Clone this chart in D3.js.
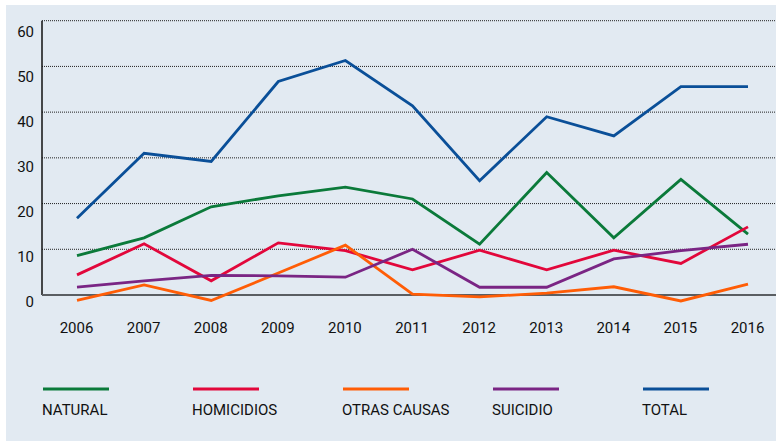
<!DOCTYPE html>
<html>
<head>
<meta charset="utf-8">
<script src="https://cdn.jsdelivr.net/npm/d3@7"></script>
<style>
  html, body { margin: 0; padding: 0; background: #ffffff; }
  svg { display: block; }
  text { font-family: Roboto, "Liberation Sans", sans-serif; fill: #111; }
</style>
</head>
<body>
<svg id="chart" width="776" height="441"></svg>
<script>
// Yearly series
const years = ["2006","2007","2008","2009","2010","2011","2012","2013","2014","2015","2016"];
const natural    = [8.6, 12.5, 19.3, 21.7, 23.6, 21.0, 11.1, 26.8, 12.5, 25.3, 13.3];
const homicidios = [4.4, 11.2, 3.1, 11.4, 9.7, 5.5, 9.8, 5.5, 9.8, 6.9, 14.9];
const otras      = [-1.2, 2.2, -1.2, 4.8, 10.9, 0.2, -0.4, 0.4, 1.8, -1.3, 2.4];
const suicidio   = [1.7, 3.1, 4.3, 4.2, 3.9, 10.0, 1.7, 1.7, 7.9, 9.7, 11.1];
const total      = [16.8, 31.0, 29.2, 46.7, 51.3, 41.4, 25.0, 39.0, 34.8, 45.6, 45.6];
const yTicks     = [0, 10, 20, 30, 40, 50, 60];

const seriesNames  = ["NATURAL", "HOMICIDIOS", "OTRAS CAUSAS", "SUICIDIO", "TOTAL"];
const seriesValues = [natural, homicidios, otras, suicidio, total];
const seriesColors = ["#0b7a3a", "#e2073b", "#ff5d06", "#7a2584", "#0a4f98"];

const svg = d3.select("#chart");

// panel background
svg.append("rect")
  .attr("x", 6).attr("y", 5)
  .attr("width", 770).attr("height", 436)
  .attr("fill", "#e2eaf2");

const x = d3.scalePoint().domain(years).range([77, 748]);
const y = d3.scaleLinear().domain([0, 60]).range([295, 20.7]);
const yLabel = d3.scaleLinear().domain([0, 60]).range([301.7, 31.7]);

// dotted gridlines
svg.append("g")
  .selectAll("line")
  .data(yTicks.filter(d => d > 0))
  .join("line")
  .attr("x1", 42).attr("x2", 776)
  .attr("y1", d => y(d)).attr("y2", d => y(d))
  .attr("stroke", "#222")
  .attr("stroke-width", 1)
  .attr("stroke-dasharray", "1,1");

// y tick labels
const yAxis = svg.append("g")
  .attr("transform", "translate(34,0)")
  .call(d3.axisLeft(yLabel).tickValues(yTicks).tickSize(0).tickPadding(0));
yAxis.select(".domain").remove();
yAxis.selectAll("text")
  .attr("font-size", 15)
  .attr("font-family", "Roboto, sans-serif")
  .attr("fill", "#111");

// x tick labels
const xAxis = svg.append("g")
  .attr("transform", "translate(-1,322)")
  .call(d3.axisBottom(x).tickSize(0).tickPadding(0));
xAxis.select(".domain").remove();
xAxis.selectAll("text")
  .attr("font-size", 15)
  .attr("font-family", "Roboto, sans-serif")
  .attr("fill", "#111");

// vertical axis line and baseline
svg.append("line")
  .attr("x1", 42).attr("x2", 42)
  .attr("y1", y(60)).attr("y2", y(0))
  .attr("stroke", "#111").attr("stroke-width", 1.5);
svg.append("line")
  .attr("x1", 42).attr("x2", 776)
  .attr("y1", y(0)).attr("y2", y(0))
  .attr("stroke", "#5a5e62").attr("stroke-width", 2);

// series lines
const line = d3.line()
  .x((d, i) => x(years[i]))
  .y(d => y(d));

svg.append("g")
  .selectAll("path")
  .data(seriesValues)
  .join("path")
  .attr("d", d => line(d))
  .attr("fill", "none")
  .attr("stroke", (d, i) => seriesColors[i])
  .attr("stroke-width", 2.8)
  .attr("stroke-linejoin", "miter");

// legend
const legend = svg.append("g")
  .selectAll("g")
  .data(seriesNames)
  .join("g")
  .attr("transform", (d, i) => `translate(${42 + i * 150},0)`);
legend.append("line")
  .attr("x1", 1).attr("x2", 67)
  .attr("y1", 389).attr("y2", 389)
  .attr("stroke", (d, i) => seriesColors[i])
  .attr("stroke-width", 3);
legend.append("text")
  .attr("x", 0).attr("y", 414.5)
  .attr("font-size", 15)
  .text(d => d);
</script>
</body>
</html>
